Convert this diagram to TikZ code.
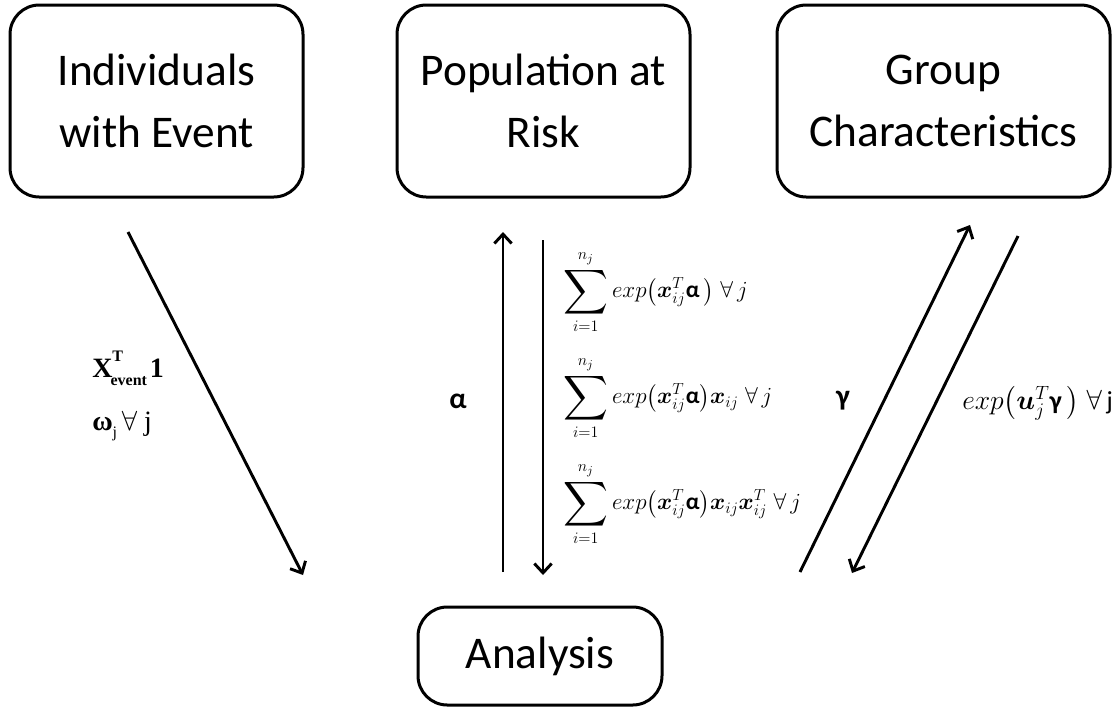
\documentclass[tikz,border=0pt]{standalone}
\usepackage{amsmath,bm,graphicx}
\usepackage{fontspec}
\setmainfont{Carlito}
\newfontfamily\tnr{Liberation Serif}
\usetikzlibrary{arrows.meta}
\newcommand{\mysum}{\mathop{\vcenter{\hbox{\scalebox{1.35}{$\displaystyle\sum$}}}}\limits}
\tikzset{
  box/.style={draw, line width=2.25pt, rounded corners=22pt, align=center,
    font=\fontsize{34}{47}\selectfont, inner sep=0pt},
  conn/.style={line width=2.2pt, -{Straight Barb[length=7pt,width=13pt,line width=2.2pt]}},
  mathlbl/.style={font=\fontsize{17.5}{20}\selectfont, inner sep=0pt, anchor=west},
  greek/.style={font=\fontsize{22}{26}\selectfont\bfseries, inner sep=0pt},
  tlbl/.style={font=\fontsize{21}{24}\selectfont\tnr, inner sep=0pt, anchor=base west}
}
\begin{document}
\begin{tikzpicture}[x=0.75pt,y=-0.75pt]
\useasboundingbox (0,0) rectangle (1120,708);
\node[box, minimum width=219.75pt, minimum height=144pt] (ind) at (156.5,101) {Individuals\\with Event};
\node[box, minimum width=219.75pt, minimum height=144pt] (pop) at (543.5,101) {Population at\\Risk};
\node[box, minimum width=249.75pt, minimum height=144pt] (grp) at (943.5,101) {Group\\Characteristics};
\node[box, minimum width=183pt, minimum height=73.5pt] (ana) at (540,656) {Analysis};

\coordinate (a1s) at (128,232);
\coordinate (a1e) at (303,575);
\coordinate (a2s) at (503,572);
\coordinate (a2e) at (503,232);
\coordinate (a3s) at (543,240);
\coordinate (a3e) at (543,575);
\coordinate (a4s) at (800,572);
\coordinate (a4e) at (970,225);
\coordinate (a5s) at (1018,236);
\coordinate (a5e) at (852,573);

\draw[conn] (a1s) -- (a1e);
\draw[conn] (a2s) -- (a2e);
\draw[conn] (a3s) -- (a3e);
\draw[conn] (a4s) -- (a4e);
\draw[conn] (a5s) -- (a5e);

\node[tlbl] (l1) at (92,377) {\bfseries X\raisebox{0.55em}{\fontsize{12}{14}\selectfont T}\kern-0.45em\raisebox{-0.3em}{\fontsize{12}{14}\selectfont event}\kern0.1em 1};
\node[tlbl] (l2) at (92,430) {\bfseries ω\raisebox{-0.25em}{\fontsize{12}{14}\selectfont\mdseries j}\,{\mdseries$\forall$ j}};
\node[greek] (al) at (458,401) {α};
\node[greek] (ga) at (843,401) {γ};
\node[mathlbl] (s1) at (563,292) {$\displaystyle\mysum_{i=1}^{n_j} exp\big(\bm{x}_{ij}^{T}\mbox{\bfseries α}\,\big)\;\forall\, j$};
\node[mathlbl] (s2) at (563,398) {$\displaystyle\mysum_{i=1}^{n_j} exp\big(\bm{x}_{ij}^{T}\mbox{\bfseries α}\big)\bm{x}_{ij}\;\forall\, j$};
\node[mathlbl] (s3) at (563,504) {$\displaystyle\mysum_{i=1}^{n_j} exp\big(\bm{x}_{ij}^{T}\mbox{\bfseries α}\big)\bm{x}_{ij}\bm{x}_{ij}^{T}\;\forall\, j$};
\node[mathlbl, font=\fontsize{19.5}{22}\selectfont] (e1) at (962,403) {$exp\big(\bm{u}_{j}^{T}\mbox{\bfseries γ}\,\big)\;\forall\,\mathrm{j}$};
\end{tikzpicture}
\end{document}
